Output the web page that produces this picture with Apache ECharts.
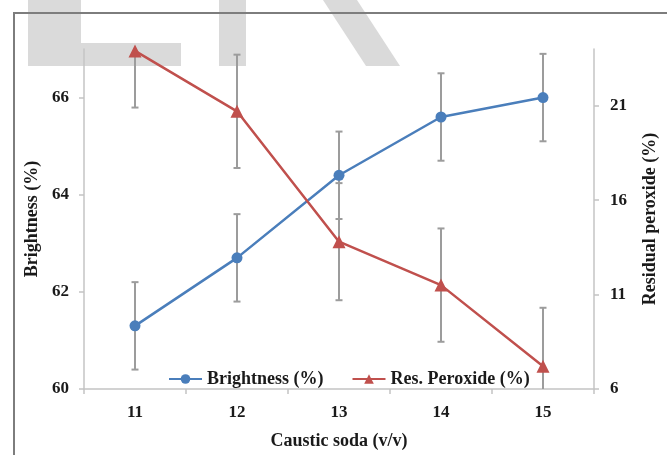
<!DOCTYPE html>
<html>
<head>
<meta charset="utf-8">
<script src="https://cdn.jsdelivr.net/npm/echarts@6/dist/echarts.min.js"></script>
<style>
  html, body { margin: 0; padding: 0; background: #ffffff; }
  #chart { width: 667px; height: 455px; }
</style>
</head>
<body>
<div id="chart"></div>
<script>
// Caustic soda dose (v/v) on the x axis
const causticSoda = ['11', '12', '13', '14', '15'];

// Brightness (%) and its standard deviation
const brightness = [61.3, 62.7, 64.4, 65.6, 66.0];
const brightnessErr = [0.9, 0.9, 0.9, 0.9, 0.9];

// Residual peroxide (%) and its standard deviation
const peroxide = [23.9, 20.7, 13.8, 11.5, 7.2];
const peroxideErr = [3.0, 3.0, 3.1, 3.0, 3.1];

// Tick labels of both value axes
const brightnessTicks = [60, 62, 64, 66];
const peroxideTicks = [6, 11, 16, 21];

const SERIF = "'Liberation Serif', 'Times New Roman', serif";
const TEXT = '#1a1a1a';
const AXIS = '#c4c4c4';
const BLUE = '#4a7ebb';
const RED = '#c0504d';
const ERR = '#9c9c9c';

// Vertical error bar with small caps
function errorBar(params, api) {
  const x = api.value(0);
  const y = api.value(1);
  const e = api.value(2);
  const hi = api.coord([x, y + e]);
  const lo = api.coord([x, y - e]);
  const cap = 3.5;
  const style = { stroke: ERR, lineWidth: 2, fill: null };
  return {
    type: 'group',
    children: [
      { type: 'line', shape: { x1: hi[0], y1: hi[1], x2: lo[0], y2: lo[1] }, style },
      { type: 'line', shape: { x1: hi[0] - cap, y1: hi[1], x2: hi[0] + cap, y2: hi[1] }, style },
      { type: 'line', shape: { x1: lo[0] - cap, y1: lo[1], x2: lo[0] + cap, y2: lo[1] }, style }
    ]
  };
}

const chart = echarts.init(document.getElementById('chart'), null, { renderer: 'canvas' });

const valueAxisBase = {
  type: 'value',
  splitLine: { show: false },
  axisLine: { show: true, lineStyle: { color: AXIS, width: 1.5 } },
  axisTick: { show: true, length: 5, lineStyle: { color: AXIS, width: 1.5 } },
  nameLocation: 'middle',
  nameRotate: 90,
  nameTextStyle: { fontFamily: SERIF, fontWeight: 'bold', fontSize: 18, color: TEXT }
};

chart.setOption({
  backgroundColor: '#ffffff',
  animation: false,
  graphic: [
    // faint lettering shapes along the top edge
    { type: 'rect', z: -10, shape: { x: 28, y: 0, width: 53, height: 66 }, style: { fill: '#dadada' } },
    { type: 'rect', z: -10, shape: { x: 28, y: 43, width: 153, height: 23 }, style: { fill: '#dadada' } },
    { type: 'rect', z: -10, shape: { x: 219, y: 0, width: 27, height: 66 }, style: { fill: '#dadada' } },
    { type: 'polygon', z: -10, shape: { points: [[323, 0], [357, 0], [400, 66], [366, 66]] }, style: { fill: '#dadada' } },
    // outer frame
    { type: 'rect', z: 100, shape: { x: 14, y: 13, width: 700, height: 500 }, style: { fill: null, stroke: '#7d7d7d', lineWidth: 2 } }
  ],
  grid: { left: 84, right: 66, top: 49, bottom: 64 },
  legend: {
    left: 163,
    top: 365,
    itemWidth: 33,
    itemHeight: 12,
    itemGap: 28,
    textStyle: { fontFamily: SERIF, fontWeight: 'bold', fontSize: 18, color: TEXT },
    data: ['Brightness (%)', 'Res. Peroxide (%)']
  },
  xAxis: {
    type: 'category',
    data: causticSoda,
    boundaryGap: true,
    axisLine: { show: true, lineStyle: { color: AXIS, width: 1.5 } },
    axisTick: { show: true, length: 5, alignWithLabel: false, lineStyle: { color: AXIS, width: 1.5 } },
    axisLabel: { margin: 15, fontFamily: SERIF, fontWeight: 'bold', fontSize: 17, color: TEXT },
    name: 'Caustic soda (v/v)',
    nameLocation: 'middle',
    nameGap: 43,
    nameTextStyle: { fontFamily: SERIF, fontWeight: 'bold', fontSize: 18, color: TEXT, verticalAlign: 'top' }
  },
  yAxis: [
    Object.assign({}, valueAxisBase, {
      min: 60, max: 67,
      position: 'left',
      name: 'Brightness (%)',
      nameGap: 42,
      axisTick: Object.assign({}, valueAxisBase.axisTick, { customValues: brightnessTicks }),
      axisLabel: { customValues: brightnessTicks, margin: 15, fontFamily: SERIF, fontWeight: 'bold', fontSize: 17, color: TEXT }
    }),
    Object.assign({}, valueAxisBase, {
      min: 6, max: 24,
      position: 'right',
      name: 'Residual peroxide (%)',
      nameGap: 47,
      axisTick: Object.assign({}, valueAxisBase.axisTick, { customValues: peroxideTicks }),
      axisLabel: { customValues: peroxideTicks, margin: 16, fontFamily: SERIF, fontWeight: 'bold', fontSize: 17, color: TEXT }
    })
  ],
  series: [
    {
      type: 'custom',
      name: 'brightness-sd',
      yAxisIndex: 0,
      clip: true,
      z: 1,
      renderItem: errorBar,
      data: causticSoda.map((c, i) => [i, brightness[i], brightnessErr[i]])
    },
    {
      type: 'custom',
      name: 'peroxide-sd',
      yAxisIndex: 1,
      clip: true,
      z: 1,
      renderItem: errorBar,
      data: causticSoda.map((c, i) => [i, peroxide[i], peroxideErr[i]])
    },
    {
      type: 'line',
      name: 'Brightness (%)',
      yAxisIndex: 0,
      z: 3,
      data: brightness,
      symbol: 'circle',
      symbolSize: 11,
      lineStyle: { color: BLUE, width: 2.5 },
      itemStyle: { color: BLUE }
    },
    {
      type: 'line',
      name: 'Res. Peroxide (%)',
      yAxisIndex: 1,
      z: 3,
      data: peroxide,
      symbol: 'triangle',
      symbolSize: 13,
      lineStyle: { color: RED, width: 2.5 },
      itemStyle: { color: RED }
    }
  ]
});
</script>
</body>
</html>
